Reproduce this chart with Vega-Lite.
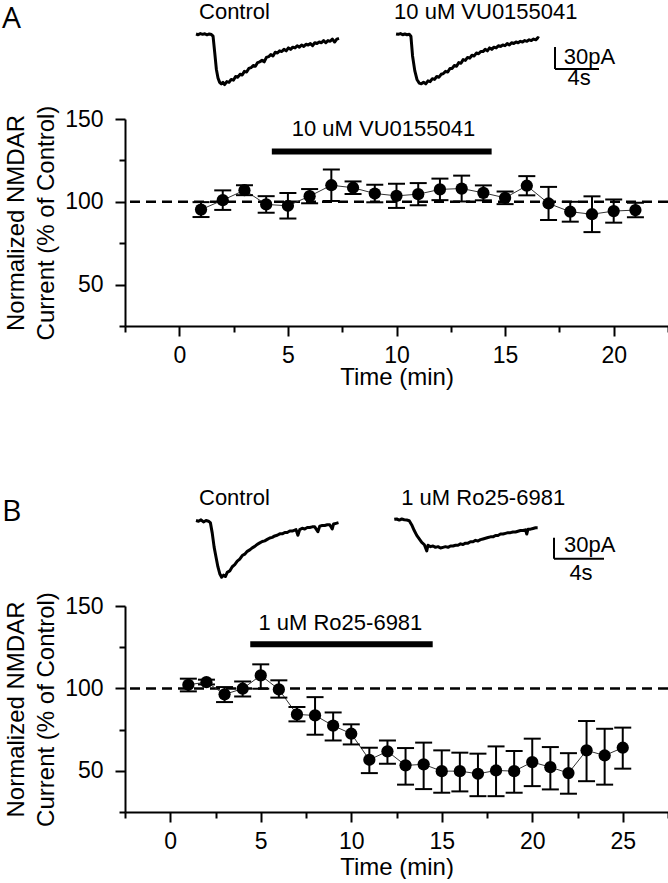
{
  "$schema": "https://vega.github.io/schema/vega-lite/v6.json",
  "background": "white",
  "padding": {"left": 1, "top": 0, "right": 0, "bottom": 0},
  "spacing": 97,
  "config": {
    "view": {"stroke": null},
    "font": "Liberation Sans",
    "axis": {"domainColor": "black", "domainWidth": 2, "tickColor": "black", "tickWidth": 2, "labelColor": "black", "titleColor": "black", "grid": false, "labelFont": "Liberation Sans", "titleFont": "Liberation Sans", "labelFontSize": 23, "titleFontSize": 24, "titleFontWeight": "normal", "labelFlush": false, "labelOverlap": false, "labelBound": false},
    "axisX": {"format": "d", "labelExpr": "datum.value % 5 === 0 ? datum.label : ''", "tickSize": {"condition": {"test": "datum.value % 5 === 0", "value": 10}, "value": 6}, "labelPadding": 8, "titlePadding": -2},
    "axisY": {"format": "d", "labelExpr": "datum.value % 50 === 0 ? datum.label : ''", "tickSize": {"condition": {"test": "datum.value % 50 === 0", "value": 10}, "value": 6}, "titleLineHeight": 30, "labelPadding": 12, "titlePadding": 6},
    "text": {"font": "Liberation Sans", "color": "black"}
  },
  "datasets": {
    "control": [{"pct": 100}],
    "pointsA": [
      {"min": 1, "pct": 95.3, "lo": 90.8, "hi": 99.8},
      {"min": 2, "pct": 101, "lo": 95.1, "hi": 106.9},
      {"min": 3, "pct": 107, "lo": 104, "hi": 110},
      {"min": 4, "pct": 98.4, "lo": 93.4, "hi": 103.4},
      {"min": 5, "pct": 97.6, "lo": 89.9, "hi": 105.3},
      {"min": 6, "pct": 103.4, "lo": 99.1, "hi": 107.7},
      {"min": 7, "pct": 110, "lo": 100.5, "hi": 119.5},
      {"min": 8, "pct": 108.5, "lo": 104.7, "hi": 112.3},
      {"min": 9, "pct": 105, "lo": 99.7, "hi": 110.3},
      {"min": 10, "pct": 103.6, "lo": 96.3, "hi": 110.9},
      {"min": 11, "pct": 104.6, "lo": 97.9, "hi": 111.3},
      {"min": 12, "pct": 107.5, "lo": 101, "hi": 114},
      {"min": 13, "pct": 108, "lo": 100.2, "hi": 115.8},
      {"min": 14, "pct": 105.4, "lo": 100.9, "hi": 109.9},
      {"min": 15, "pct": 102.4, "lo": 98.6, "hi": 106.2},
      {"min": 16, "pct": 109.7, "lo": 103.9, "hi": 115.5},
      {"min": 17, "pct": 99, "lo": 89, "hi": 109},
      {"min": 18, "pct": 94, "lo": 88, "hi": 100},
      {"min": 19, "pct": 92.5, "lo": 81.7, "hi": 103.3},
      {"min": 20, "pct": 94.4, "lo": 87.4, "hi": 101.4},
      {"min": 21, "pct": 95, "lo": 90.6, "hi": 99.4}
    ],
    "pointsB": [
      {"min": 1, "pct": 102.2, "lo": 98.2, "hi": 105.9},
      {"min": 2, "pct": 103.8, "lo": 102.4, "hi": 105.3},
      {"min": 3, "pct": 96.4, "lo": 91.7, "hi": 100.8},
      {"min": 4, "pct": 99.8, "lo": 95.1, "hi": 104.2},
      {"min": 5, "pct": 107.9, "lo": 99.8, "hi": 114.6},
      {"min": 6, "pct": 99.4, "lo": 94.4, "hi": 104.9},
      {"min": 7, "pct": 84.2, "lo": 80, "hi": 88.7},
      {"min": 8, "pct": 83.6, "lo": 71.9, "hi": 94.7},
      {"min": 9, "pct": 77.4, "lo": 68.4, "hi": 85.4},
      {"min": 10, "pct": 72.5, "lo": 66, "hi": 78.2},
      {"min": 11, "pct": 56.7, "lo": 48.6, "hi": 64},
      {"min": 12, "pct": 61.8, "lo": 54.3, "hi": 68.4},
      {"min": 13, "pct": 53.3, "lo": 41.6, "hi": 63.8},
      {"min": 14, "pct": 53.9, "lo": 38.9, "hi": 67.1},
      {"min": 15, "pct": 49.8, "lo": 36.7, "hi": 62.4},
      {"min": 16, "pct": 49.8, "lo": 37.5, "hi": 61},
      {"min": 17, "pct": 48.2, "lo": 34.6, "hi": 60.4},
      {"min": 18, "pct": 50.2, "lo": 34.6, "hi": 64.8},
      {"min": 19, "pct": 49.8, "lo": 36.7, "hi": 62},
      {"min": 20, "pct": 55.3, "lo": 40.7, "hi": 69.5},
      {"min": 21, "pct": 52.2, "lo": 38.7, "hi": 64.4},
      {"min": 22, "pct": 48.6, "lo": 36.1, "hi": 60.7},
      {"min": 23, "pct": 62.4, "lo": 43.7, "hi": 80.2},
      {"min": 24, "pct": 59.3, "lo": 41.6, "hi": 75.5},
      {"min": 25, "pct": 64, "lo": 51.3, "hi": 76.2}
    ],
    "drugA": [{"drug": "10 uM VU0155041", "start": 4.26, "end": 14.38}],
    "drugB": [{"drug": "1 uM Ro25-6981", "start": 4.42, "end": 14.5}],
    "labelsA": [{"trace": "Panel", "label": "A"}, {"trace": "Control", "label": "Control"}, {"trace": "Drug", "label": "10 uM VU0155041"}],
    "labelsB": [{"trace": "Panel", "label": "B"}, {"trace": "Control", "label": "Control"}, {"trace": "Drug", "label": "1 uM Ro25-6981"}],
    "scalebar": [{"t0": 0, "t1": 4, "i0": 0, "i1": 30, "amp": "30pA", "dur": "4s"}],
    "tracesA": [
      {"trace": "Control", "t": 0, "pA": 0}, {"trace": "Control", "t": 0.2, "pA": -1}, {"trace": "Control", "t": 0.4, "pA": 0.5}, {"trace": "Control", "t": 0.6, "pA": -0.5}, {"trace": "Control", "t": 0.8, "pA": 0.3}, {"trace": "Control", "t": 1.0, "pA": -1.2}, {"trace": "Control", "t": 1.2, "pA": 0}, {"trace": "Control", "t": 1.4, "pA": -0.8}, {"trace": "Control", "t": 1.55, "pA": -3}, {"trace": "Control", "t": 1.7, "pA": -25}, {"trace": "Control", "t": 1.85, "pA": -48}, {"trace": "Control", "t": 2.0, "pA": -60}, {"trace": "Control", "t": 2.15, "pA": -66}, {"trace": "Control", "t": 2.3, "pA": -68}, {"trace": "Control", "t": 2.45, "pA": -66}, {"trace": "Control", "t": 2.6, "pA": -69}, {"trace": "Control", "t": 2.8, "pA": -65}, {"trace": "Control", "t": 3.0, "pA": -66}, {"trace": "Control", "t": 3.2, "pA": -62}, {"trace": "Control", "t": 3.4, "pA": -63}, {"trace": "Control", "t": 3.6, "pA": -58}, {"trace": "Control", "t": 3.8, "pA": -59}, {"trace": "Control", "t": 4.0, "pA": -55}, {"trace": "Control", "t": 4.2, "pA": -56}, {"trace": "Control", "t": 4.4, "pA": -51}, {"trace": "Control", "t": 4.6, "pA": -52}, {"trace": "Control", "t": 4.8, "pA": -47}, {"trace": "Control", "t": 5.0, "pA": -46}, {"trace": "Control", "t": 5.2, "pA": -43}, {"trace": "Control", "t": 5.4, "pA": -44}, {"trace": "Control", "t": 5.6, "pA": -39}, {"trace": "Control", "t": 5.8, "pA": -38}, {"trace": "Control", "t": 6.0, "pA": -36}, {"trace": "Control", "t": 6.2, "pA": -38}, {"trace": "Control", "t": 6.4, "pA": -32}, {"trace": "Control", "t": 6.6, "pA": -31}, {"trace": "Control", "t": 6.8, "pA": -28}, {"trace": "Control", "t": 7.0, "pA": -30}, {"trace": "Control", "t": 7.2, "pA": -25}, {"trace": "Control", "t": 7.4, "pA": -26}, {"trace": "Control", "t": 7.6, "pA": -23}, {"trace": "Control", "t": 7.8, "pA": -24}, {"trace": "Control", "t": 8.0, "pA": -21}, {"trace": "Control", "t": 8.2, "pA": -23}, {"trace": "Control", "t": 8.4, "pA": -19}, {"trace": "Control", "t": 8.6, "pA": -21}, {"trace": "Control", "t": 8.8, "pA": -18}, {"trace": "Control", "t": 9.0, "pA": -19}, {"trace": "Control", "t": 9.2, "pA": -16}, {"trace": "Control", "t": 9.4, "pA": -18}, {"trace": "Control", "t": 9.6, "pA": -15}, {"trace": "Control", "t": 9.8, "pA": -17}, {"trace": "Control", "t": 10.0, "pA": -14}, {"trace": "Control", "t": 10.2, "pA": -15}, {"trace": "Control", "t": 10.4, "pA": -13}, {"trace": "Control", "t": 10.6, "pA": -16}, {"trace": "Control", "t": 10.8, "pA": -12}, {"trace": "Control", "t": 11.0, "pA": -13}, {"trace": "Control", "t": 11.2, "pA": -11}, {"trace": "Control", "t": 11.4, "pA": -12}, {"trace": "Control", "t": 11.6, "pA": -9}, {"trace": "Control", "t": 11.8, "pA": -12}, {"trace": "Control", "t": 12.0, "pA": -9}, {"trace": "Control", "t": 12.2, "pA": -10}, {"trace": "Control", "t": 12.4, "pA": -7}, {"trace": "Control", "t": 12.6, "pA": -11}, {"trace": "Control", "t": 12.8, "pA": -7}, {"trace": "Control", "t": 13.0, "pA": -6},
      {"trace": "Drug", "t": 0, "pA": 0}, {"trace": "Drug", "t": 0.2, "pA": -0.5}, {"trace": "Drug", "t": 0.4, "pA": 0.5}, {"trace": "Drug", "t": 0.6, "pA": -1}, {"trace": "Drug", "t": 0.8, "pA": 0}, {"trace": "Drug", "t": 1.0, "pA": -1}, {"trace": "Drug", "t": 1.2, "pA": -0.5}, {"trace": "Drug", "t": 1.35, "pA": -3}, {"trace": "Drug", "t": 1.5, "pA": -30}, {"trace": "Drug", "t": 1.7, "pA": -50}, {"trace": "Drug", "t": 1.9, "pA": -62}, {"trace": "Drug", "t": 2.1, "pA": -67}, {"trace": "Drug", "t": 2.3, "pA": -68}, {"trace": "Drug", "t": 2.5, "pA": -66}, {"trace": "Drug", "t": 2.7, "pA": -68}, {"trace": "Drug", "t": 2.9, "pA": -64}, {"trace": "Drug", "t": 3.1, "pA": -65}, {"trace": "Drug", "t": 3.3, "pA": -61}, {"trace": "Drug", "t": 3.5, "pA": -62}, {"trace": "Drug", "t": 3.7, "pA": -58}, {"trace": "Drug", "t": 3.9, "pA": -59}, {"trace": "Drug", "t": 4.1, "pA": -55}, {"trace": "Drug", "t": 4.3, "pA": -54}, {"trace": "Drug", "t": 4.5, "pA": -51}, {"trace": "Drug", "t": 4.7, "pA": -52}, {"trace": "Drug", "t": 4.9, "pA": -47}, {"trace": "Drug", "t": 5.1, "pA": -47}, {"trace": "Drug", "t": 5.3, "pA": -43}, {"trace": "Drug", "t": 5.5, "pA": -44}, {"trace": "Drug", "t": 5.7, "pA": -39}, {"trace": "Drug", "t": 5.9, "pA": -40}, {"trace": "Drug", "t": 6.1, "pA": -35}, {"trace": "Drug", "t": 6.3, "pA": -36}, {"trace": "Drug", "t": 6.5, "pA": -32}, {"trace": "Drug", "t": 6.7, "pA": -33}, {"trace": "Drug", "t": 6.9, "pA": -29}, {"trace": "Drug", "t": 7.1, "pA": -30}, {"trace": "Drug", "t": 7.3, "pA": -26}, {"trace": "Drug", "t": 7.5, "pA": -27}, {"trace": "Drug", "t": 7.7, "pA": -24}, {"trace": "Drug", "t": 7.9, "pA": -24}, {"trace": "Drug", "t": 8.1, "pA": -21}, {"trace": "Drug", "t": 8.3, "pA": -23}, {"trace": "Drug", "t": 8.5, "pA": -19}, {"trace": "Drug", "t": 8.7, "pA": -21}, {"trace": "Drug", "t": 8.9, "pA": -18}, {"trace": "Drug", "t": 9.1, "pA": -19}, {"trace": "Drug", "t": 9.3, "pA": -16}, {"trace": "Drug", "t": 9.5, "pA": -17}, {"trace": "Drug", "t": 9.7, "pA": -15}, {"trace": "Drug", "t": 9.9, "pA": -16}, {"trace": "Drug", "t": 10.1, "pA": -13}, {"trace": "Drug", "t": 10.3, "pA": -15}, {"trace": "Drug", "t": 10.5, "pA": -12}, {"trace": "Drug", "t": 10.7, "pA": -13}, {"trace": "Drug", "t": 10.9, "pA": -11}, {"trace": "Drug", "t": 11.1, "pA": -12}, {"trace": "Drug", "t": 11.3, "pA": -10}, {"trace": "Drug", "t": 11.5, "pA": -11}, {"trace": "Drug", "t": 11.7, "pA": -9}, {"trace": "Drug", "t": 11.9, "pA": -10}, {"trace": "Drug", "t": 12.1, "pA": -8}, {"trace": "Drug", "t": 12.3, "pA": -9}, {"trace": "Drug", "t": 12.5, "pA": -7}, {"trace": "Drug", "t": 12.7, "pA": -8}, {"trace": "Drug", "t": 12.9, "pA": -5}, {"trace": "Drug", "t": 13.0, "pA": -6}
    ],
    "tracesB": [
      {"trace": "Control", "t": 0, "pA": 0}, {"trace": "Control", "t": 0.2, "pA": -1}, {"trace": "Control", "t": 0.4, "pA": 1}, {"trace": "Control", "t": 0.6, "pA": -2}, {"trace": "Control", "t": 0.8, "pA": 0}, {"trace": "Control", "t": 1.0, "pA": -1}, {"trace": "Control", "t": 1.15, "pA": -3}, {"trace": "Control", "t": 1.3, "pA": -18}, {"trace": "Control", "t": 1.45, "pA": -38}, {"trace": "Control", "t": 1.6, "pA": -52}, {"trace": "Control", "t": 1.75, "pA": -66}, {"trace": "Control", "t": 1.9, "pA": -76}, {"trace": "Control", "t": 2.05, "pA": -81}, {"trace": "Control", "t": 2.2, "pA": -78}, {"trace": "Control", "t": 2.35, "pA": -80}, {"trace": "Control", "t": 2.5, "pA": -74}, {"trace": "Control", "t": 2.7, "pA": -72}, {"trace": "Control", "t": 2.9, "pA": -66}, {"trace": "Control", "t": 3.1, "pA": -63}, {"trace": "Control", "t": 3.3, "pA": -58}, {"trace": "Control", "t": 3.5, "pA": -55}, {"trace": "Control", "t": 3.7, "pA": -50}, {"trace": "Control", "t": 3.9, "pA": -48}, {"trace": "Control", "t": 4.1, "pA": -44}, {"trace": "Control", "t": 4.3, "pA": -42}, {"trace": "Control", "t": 4.5, "pA": -39}, {"trace": "Control", "t": 4.7, "pA": -37}, {"trace": "Control", "t": 4.9, "pA": -34}, {"trace": "Control", "t": 5.1, "pA": -32}, {"trace": "Control", "t": 5.3, "pA": -30}, {"trace": "Control", "t": 5.5, "pA": -29}, {"trace": "Control", "t": 5.7, "pA": -27}, {"trace": "Control", "t": 5.9, "pA": -25}, {"trace": "Control", "t": 6.1, "pA": -24}, {"trace": "Control", "t": 6.3, "pA": -22}, {"trace": "Control", "t": 6.5, "pA": -21}, {"trace": "Control", "t": 6.7, "pA": -19}, {"trace": "Control", "t": 6.9, "pA": -19}, {"trace": "Control", "t": 7.1, "pA": -17}, {"trace": "Control", "t": 7.3, "pA": -17}, {"trace": "Control", "t": 7.5, "pA": -15}, {"trace": "Control", "t": 7.7, "pA": -15}, {"trace": "Control", "t": 8.0, "pA": -13}, {"trace": "Control", "t": 8.15, "pA": -21}, {"trace": "Control", "t": 8.3, "pA": -13}, {"trace": "Control", "t": 8.5, "pA": -11}, {"trace": "Control", "t": 8.7, "pA": -12}, {"trace": "Control", "t": 8.9, "pA": -10}, {"trace": "Control", "t": 9.1, "pA": -10}, {"trace": "Control", "t": 9.3, "pA": -9}, {"trace": "Control", "t": 9.5, "pA": -9}, {"trace": "Control", "t": 9.75, "pA": -16}, {"trace": "Control", "t": 9.9, "pA": -8}, {"trace": "Control", "t": 10.1, "pA": -7}, {"trace": "Control", "t": 10.3, "pA": -7}, {"trace": "Control", "t": 10.5, "pA": -6}, {"trace": "Control", "t": 10.7, "pA": -6}, {"trace": "Control", "t": 10.9, "pA": -12}, {"trace": "Control", "t": 11.0, "pA": -5}, {"trace": "Control", "t": 11.2, "pA": -4}, {"trace": "Control", "t": 11.4, "pA": -3},
      {"trace": "Drug", "t": 0, "pA": 0}, {"trace": "Drug", "t": 0.2, "pA": 0.5}, {"trace": "Drug", "t": 0.4, "pA": -1}, {"trace": "Drug", "t": 0.6, "pA": 0.5}, {"trace": "Drug", "t": 0.8, "pA": -0.5}, {"trace": "Drug", "t": 1.0, "pA": -1}, {"trace": "Drug", "t": 1.2, "pA": -2}, {"trace": "Drug", "t": 1.4, "pA": -8}, {"trace": "Drug", "t": 1.6, "pA": -16}, {"trace": "Drug", "t": 1.8, "pA": -23}, {"trace": "Drug", "t": 2.0, "pA": -28}, {"trace": "Drug", "t": 2.2, "pA": -33}, {"trace": "Drug", "t": 2.4, "pA": -36}, {"trace": "Drug", "t": 2.6, "pA": -45}, {"trace": "Drug", "t": 2.7, "pA": -37}, {"trace": "Drug", "t": 2.9, "pA": -39}, {"trace": "Drug", "t": 3.1, "pA": -38}, {"trace": "Drug", "t": 3.3, "pA": -40}, {"trace": "Drug", "t": 3.5, "pA": -39}, {"trace": "Drug", "t": 3.7, "pA": -41}, {"trace": "Drug", "t": 3.9, "pA": -40}, {"trace": "Drug", "t": 4.1, "pA": -39}, {"trace": "Drug", "t": 4.3, "pA": -40}, {"trace": "Drug", "t": 4.5, "pA": -38}, {"trace": "Drug", "t": 4.7, "pA": -38}, {"trace": "Drug", "t": 4.9, "pA": -37}, {"trace": "Drug", "t": 5.1, "pA": -37}, {"trace": "Drug", "t": 5.3, "pA": -35}, {"trace": "Drug", "t": 5.5, "pA": -36}, {"trace": "Drug", "t": 5.7, "pA": -34}, {"trace": "Drug", "t": 5.9, "pA": -34}, {"trace": "Drug", "t": 6.1, "pA": -32}, {"trace": "Drug", "t": 6.3, "pA": -32}, {"trace": "Drug", "t": 6.5, "pA": -30}, {"trace": "Drug", "t": 6.7, "pA": -31}, {"trace": "Drug", "t": 6.9, "pA": -29}, {"trace": "Drug", "t": 7.1, "pA": -28}, {"trace": "Drug", "t": 7.3, "pA": -27}, {"trace": "Drug", "t": 7.5, "pA": -26}, {"trace": "Drug", "t": 7.7, "pA": -25}, {"trace": "Drug", "t": 7.9, "pA": -25}, {"trace": "Drug", "t": 8.1, "pA": -23}, {"trace": "Drug", "t": 8.3, "pA": -23}, {"trace": "Drug", "t": 8.5, "pA": -21}, {"trace": "Drug", "t": 8.7, "pA": -21}, {"trace": "Drug", "t": 8.9, "pA": -20}, {"trace": "Drug", "t": 9.1, "pA": -19}, {"trace": "Drug", "t": 9.3, "pA": -19}, {"trace": "Drug", "t": 9.5, "pA": -18}, {"trace": "Drug", "t": 9.7, "pA": -18}, {"trace": "Drug", "t": 9.9, "pA": -17}, {"trace": "Drug", "t": 10.1, "pA": -16}, {"trace": "Drug", "t": 10.3, "pA": -16}, {"trace": "Drug", "t": 10.5, "pA": -15}, {"trace": "Drug", "t": 10.6, "pA": -21}, {"trace": "Drug", "t": 10.7, "pA": -14}, {"trace": "Drug", "t": 10.9, "pA": -14}, {"trace": "Drug", "t": 11.1, "pA": -13}, {"trace": "Drug", "t": 11.3, "pA": -12}, {"trace": "Drug", "t": 11.47, "pA": -12}
    ]
  },
  "vconcat": [
    {
      "width": 543,
      "height": 207,
      "resolve": {"scale": {"x": "independent", "y": "independent"}},
      "layer": [
        {
          "layer": [
            {
              "data": {"name": "control"},
              "mark": {"type": "rule", "strokeDash": [10, 6], "strokeWidth": 2.5, "color": "black"},
              "encoding": {"y": {"field": "pct", "type": "quantitative", "scale": {"domain": [25, 150], "nice": false, "zero": false}, "axis": {"title": ["Normalized NMDAR", "Current (% of Control)"], "values": [25, 50, 75, 100, 125, 150]}}}
            },
            {
              "data": {"name": "drugA"},
              "mark": {"type": "rule", "strokeWidth": 6, "color": "black"},
              "encoding": {
                "x": {"field": "start", "type": "quantitative", "scale": {"domain": [-2.5, 22.5], "nice": false, "zero": false}, "axis": {"title": "Time (min)", "values": [-2.5, 0, 2.5, 5, 7.5, 10, 12.5, 15, 17.5, 20, 22.5]}},
                "x2": {"field": "end"},
                "y": {"datum": 130.3, "type": "quantitative", "scale": {"domain": [25, 150], "nice": false, "zero": false}, "axis": {"title": ["Normalized NMDAR", "Current (% of Control)"], "values": [25, 50, 75, 100, 125, 150]}}
              }
            },
            {
              "data": {"name": "drugA"},
              "mark": {"type": "text", "fontSize": 22, "align": "center", "baseline": "alphabetic"},
              "encoding": {
                "x": {"datum": 9.4, "type": "quantitative", "scale": {"domain": [-2.5, 22.5], "nice": false, "zero": false}, "axis": {"title": "Time (min)", "values": [-2.5, 0, 2.5, 5, 7.5, 10, 12.5, 15, 17.5, 20, 22.5]}},
                "y": {"datum": 139.5, "type": "quantitative", "scale": {"domain": [25, 150], "nice": false, "zero": false}, "axis": {"title": ["Normalized NMDAR", "Current (% of Control)"], "values": [25, 50, 75, 100, 125, 150]}},
                "text": {"field": "drug"}
              }
            },
            {
              "data": {"name": "pointsA"},
              "encoding": {
                "x": {"field": "min", "type": "quantitative", "scale": {"domain": [-2.5, 22.5], "nice": false, "zero": false}, "axis": {"title": "Time (min)", "values": [-2.5, 0, 2.5, 5, 7.5, 10, 12.5, 15, 17.5, 20, 22.5]}}
              },
              "layer": [
                {
                  "mark": {"type": "line", "color": "#333333", "strokeWidth": 1},
                  "encoding": {"y": {"field": "pct", "type": "quantitative", "scale": {"domain": [25, 150], "nice": false, "zero": false}, "axis": {"title": ["Normalized NMDAR", "Current (% of Control)"], "values": [25, 50, 75, 100, 125, 150]}}}
                },
                {
                  "mark": {"type": "rule", "color": "black", "strokeWidth": 2},
                  "encoding": {"y": {"field": "lo", "type": "quantitative", "scale": {"domain": [25, 150], "nice": false, "zero": false}, "axis": {"title": ["Normalized NMDAR", "Current (% of Control)"], "values": [25, 50, 75, 100, 125, 150]}}, "y2": {"field": "hi"}}
                },
                {
                  "mark": {"type": "tick", "orient": "horizontal", "size": 17, "thickness": 2, "color": "black", "opacity": 1},
                  "encoding": {"y": {"field": "lo", "type": "quantitative", "scale": {"domain": [25, 150], "nice": false, "zero": false}, "axis": {"title": ["Normalized NMDAR", "Current (% of Control)"], "values": [25, 50, 75, 100, 125, 150]}}}
                },
                {
                  "mark": {"type": "tick", "orient": "horizontal", "size": 17, "thickness": 2, "color": "black", "opacity": 1},
                  "encoding": {"y": {"field": "hi", "type": "quantitative", "scale": {"domain": [25, 150], "nice": false, "zero": false}, "axis": {"title": ["Normalized NMDAR", "Current (% of Control)"], "values": [25, 50, 75, 100, 125, 150]}}}
                },
                {
                  "mark": {"type": "circle", "size": 150, "color": "black", "opacity": 1},
                  "encoding": {"y": {"field": "pct", "type": "quantitative", "scale": {"domain": [25, 150], "nice": false, "zero": false}, "axis": {"title": ["Normalized NMDAR", "Current (% of Control)"], "values": [25, 50, 75, 100, 125, 150]}}}
                }
              ]
            }
          ]
        },
        {
          "layer": [
            {
              "data": {"name": "tracesA"},
              "transform": [{"filter": "datum.trace === 'Control'"}],
              "mark": {"type": "line", "color": "black", "strokeWidth": 3, "strokeJoin": "round"},
              "encoding": {
                "x": {"field": "t", "type": "quantitative", "scale": {"domain": [-6.455, 42.91], "nice": false, "zero": false}, "axis": null},
                "y": {"field": "pA", "type": "quantitative", "scale": {"domain": [-398.4, -116.0], "nice": false, "zero": false}, "axis": null}
              }
            },
            {
              "data": {"name": "labelsA"},
              "transform": [{"filter": "datum.trace === 'Control'"}],
              "mark": {"type": "text", "align": "left", "baseline": "alphabetic", "fontSize": 22, "dx": 3},
              "encoding": {
                "x": {"datum": 0, "type": "quantitative", "scale": {"domain": [-6.455, 42.91], "nice": false, "zero": false}, "axis": null},
                "y": {"datum": 20.5, "type": "quantitative", "scale": {"domain": [-398.4, -116.0], "nice": false, "zero": false}, "axis": null},
                "text": {"field": "label"}
              }
            },
            {
              "data": {"name": "labelsA"},
              "transform": [{"filter": "datum.trace === 'Panel'"}],
              "mark": {"type": "text", "align": "left", "baseline": "alphabetic", "fontSize": 30, "font": "Open Sans"},
              "encoding": {
                "x": {"datum": -17.64, "type": "quantitative", "scale": {"domain": [-6.455, 42.91], "nice": false, "zero": false}, "axis": null},
                "y": {"datum": 8.2, "type": "quantitative", "scale": {"domain": [-398.4, -116.0], "nice": false, "zero": false}, "axis": null},
                "text": {"field": "label"}
              }
            }
          ]
        },
        {
          "layer": [
            {
              "data": {"name": "tracesA"},
              "transform": [{"filter": "datum.trace === 'Drug'"}],
              "mark": {"type": "line", "color": "black", "strokeWidth": 3, "strokeJoin": "round"},
              "encoding": {
                "x": {"field": "t", "type": "quantitative", "scale": {"domain": [-24.64, 24.72], "nice": false, "zero": false}, "axis": null},
                "y": {"field": "pA", "type": "quantitative", "scale": {"domain": [-398.4, -116.0], "nice": false, "zero": false}, "axis": null}
              }
            },
            {
              "data": {"name": "labelsA"},
              "transform": [{"filter": "datum.trace === 'Drug'"}],
              "mark": {"type": "text", "align": "left", "baseline": "alphabetic", "fontSize": 22, "dx": -2},
              "encoding": {
                "x": {"datum": 0, "type": "quantitative", "scale": {"domain": [-24.64, 24.72], "nice": false, "zero": false}, "axis": null},
                "y": {"datum": 20.5, "type": "quantitative", "scale": {"domain": [-398.4, -116.0], "nice": false, "zero": false}, "axis": null},
                "text": {"field": "label"}
              }
            }
          ]
        },
        {
          "data": {"name": "scalebar"},
          "encoding": {
            "x": {"field": "t0", "type": "quantitative", "scale": {"domain": [-39.09, 10.27], "nice": false, "zero": false}, "axis": null},
            "y": {"field": "i0", "type": "quantitative", "scale": {"domain": [-350.6, -68.2], "nice": false, "zero": false}, "axis": null}
          },
          "layer": [
            {"mark": {"type": "rule", "color": "black", "strokeWidth": 2}, "encoding": {"y2": {"field": "i1"}}},
            {"mark": {"type": "rule", "color": "black", "strokeWidth": 2}, "encoding": {"x2": {"field": "t1"}}},
            {"mark": {"type": "text", "align": "left", "baseline": "middle", "fontSize": 22},
              "encoding": {"x": {"datum": 0.8, "type": "quantitative"}, "y": {"datum": 17, "type": "quantitative"}, "text": {"field": "amp"}}},
            {"mark": {"type": "text", "align": "center", "baseline": "top", "fontSize": 22, "dy": -1},
              "encoding": {"x": {"datum": 2.2, "type": "quantitative"}, "text": {"field": "dur"}}}
          ]
        }
      ]
    },
    {
      "width": 543,
      "height": 206,
      "resolve": {"scale": {"x": "independent", "y": "independent"}},
      "layer": [
        {
          "layer": [
            {
              "data": {"name": "control"},
              "mark": {"type": "rule", "strokeDash": [10, 6], "strokeWidth": 2.5, "color": "black"},
              "encoding": {"y": {"field": "pct", "type": "quantitative", "scale": {"domain": [25, 150], "nice": false, "zero": false}, "axis": {"title": ["Normalized NMDAR", "Current (% of Control)"], "values": [25, 50, 75, 100, 125, 150]}}}
            },
            {
              "data": {"name": "drugB"},
              "mark": {"type": "rule", "strokeWidth": 6, "color": "black"},
              "encoding": {
                "x": {"field": "start", "type": "quantitative", "scale": {"domain": [-2.5, 27.5], "nice": false, "zero": false}, "axis": {"title": "Time (min)", "values": [-2.5, 0, 2.5, 5, 7.5, 10, 12.5, 15, 17.5, 20, 22.5, 25, 27.5], "labelPadding": 8, "titlePadding": 2}},
                "x2": {"field": "end"},
                "y": {"datum": 126.8, "type": "quantitative", "scale": {"domain": [25, 150], "nice": false, "zero": false}, "axis": {"title": ["Normalized NMDAR", "Current (% of Control)"], "values": [25, 50, 75, 100, 125, 150]}}
              }
            },
            {
              "data": {"name": "drugB"},
              "mark": {"type": "text", "fontSize": 22, "align": "center", "baseline": "alphabetic"},
              "encoding": {
                "x": {"datum": 9.4, "type": "quantitative", "scale": {"domain": [-2.5, 27.5], "nice": false, "zero": false}, "axis": {"title": "Time (min)", "values": [-2.5, 0, 2.5, 5, 7.5, 10, 12.5, 15, 17.5, 20, 22.5, 25, 27.5], "labelPadding": 8, "titlePadding": 2}},
                "y": {"datum": 135.3, "type": "quantitative", "scale": {"domain": [25, 150], "nice": false, "zero": false}, "axis": {"title": ["Normalized NMDAR", "Current (% of Control)"], "values": [25, 50, 75, 100, 125, 150]}},
                "text": {"field": "drug"}
              }
            },
            {
              "data": {"name": "pointsB"},
              "encoding": {
                "x": {"field": "min", "type": "quantitative", "scale": {"domain": [-2.5, 27.5], "nice": false, "zero": false}, "axis": {"title": "Time (min)", "values": [-2.5, 0, 2.5, 5, 7.5, 10, 12.5, 15, 17.5, 20, 22.5, 25, 27.5], "labelPadding": 8, "titlePadding": 2}}
              },
              "layer": [
                {
                  "mark": {"type": "line", "color": "#333333", "strokeWidth": 1},
                  "encoding": {"y": {"field": "pct", "type": "quantitative", "scale": {"domain": [25, 150], "nice": false, "zero": false}, "axis": {"title": ["Normalized NMDAR", "Current (% of Control)"], "values": [25, 50, 75, 100, 125, 150]}}}
                },
                {
                  "mark": {"type": "rule", "color": "black", "strokeWidth": 2},
                  "encoding": {"y": {"field": "lo", "type": "quantitative", "scale": {"domain": [25, 150], "nice": false, "zero": false}, "axis": {"title": ["Normalized NMDAR", "Current (% of Control)"], "values": [25, 50, 75, 100, 125, 150]}}, "y2": {"field": "hi"}}
                },
                {
                  "mark": {"type": "tick", "orient": "horizontal", "size": 17, "thickness": 2, "color": "black", "opacity": 1},
                  "encoding": {"y": {"field": "lo", "type": "quantitative", "scale": {"domain": [25, 150], "nice": false, "zero": false}, "axis": {"title": ["Normalized NMDAR", "Current (% of Control)"], "values": [25, 50, 75, 100, 125, 150]}}}
                },
                {
                  "mark": {"type": "tick", "orient": "horizontal", "size": 17, "thickness": 2, "color": "black", "opacity": 1},
                  "encoding": {"y": {"field": "hi", "type": "quantitative", "scale": {"domain": [25, 150], "nice": false, "zero": false}, "axis": {"title": ["Normalized NMDAR", "Current (% of Control)"], "values": [25, 50, 75, 100, 125, 150]}}}
                },
                {
                  "mark": {"type": "circle", "size": 150, "color": "black", "opacity": 1},
                  "encoding": {"y": {"field": "pct", "type": "quantitative", "scale": {"domain": [25, 150], "nice": false, "zero": false}, "axis": {"title": ["Normalized NMDAR", "Current (% of Control)"], "values": [25, 50, 75, 100, 125, 150]}}}
                }
              ]
            }
          ]
        },
        {
          "layer": [
            {
              "data": {"name": "tracesB"},
              "transform": [{"filter": "datum.trace === 'Control'"}],
              "mark": {"type": "line", "color": "black", "strokeWidth": 3, "strokeJoin": "round"},
              "encoding": {
                "x": {"field": "t", "type": "quantitative", "scale": {"domain": [-5.68, 37.76], "nice": false, "zero": false}, "axis": null},
                "y": {"field": "pA", "type": "quantitative", "scale": {"domain": [-416.4, -122.1], "nice": false, "zero": false}, "axis": null}
              }
            },
            {
              "data": {"name": "labelsB"},
              "transform": [{"filter": "datum.trace === 'Control'"}],
              "mark": {"type": "text", "align": "left", "baseline": "alphabetic", "fontSize": 22, "dx": 3},
              "encoding": {
                "x": {"datum": 0, "type": "quantitative", "scale": {"domain": [-5.68, 37.76], "nice": false, "zero": false}, "axis": null},
                "y": {"datum": 22.9, "type": "quantitative", "scale": {"domain": [-416.4, -122.1], "nice": false, "zero": false}, "axis": null},
                "text": {"field": "label"}
              }
            },
            {
              "data": {"name": "labelsB"},
              "transform": [{"filter": "datum.trace === 'Panel'"}],
              "mark": {"type": "text", "align": "left", "baseline": "alphabetic", "fontSize": 30, "font": "Open Sans"},
              "encoding": {
                "x": {"datum": -15.52, "type": "quantitative", "scale": {"domain": [-5.68, 37.76], "nice": false, "zero": false}, "axis": null},
                "y": {"datum": -0.7, "type": "quantitative", "scale": {"domain": [-416.4, -122.1], "nice": false, "zero": false}, "axis": null},
                "text": {"field": "label"}
              }
            }
          ]
        },
        {
          "layer": [
            {
              "data": {"name": "tracesB"},
              "transform": [{"filter": "datum.trace === 'Drug'"}],
              "mark": {"type": "line", "color": "black", "strokeWidth": 3, "strokeJoin": "round"},
              "encoding": {
                "x": {"field": "t", "type": "quantitative", "scale": {"domain": [-21.54, 21.9], "nice": false, "zero": false}, "axis": null},
                "y": {"field": "pA", "type": "quantitative", "scale": {"domain": [-418.1, -123.8], "nice": false, "zero": false}, "axis": null}
              }
            },
            {
              "data": {"name": "labelsB"},
              "transform": [{"filter": "datum.trace === 'Drug'"}],
              "mark": {"type": "text", "align": "left", "baseline": "alphabetic", "fontSize": 22, "dx": 7},
              "encoding": {
                "x": {"datum": 0, "type": "quantitative", "scale": {"domain": [-21.54, 21.9], "nice": false, "zero": false}, "axis": null},
                "y": {"datum": 21.1, "type": "quantitative", "scale": {"domain": [-418.1, -123.8], "nice": false, "zero": false}, "axis": null},
                "text": {"field": "label"}
              }
            }
          ]
        },
        {
          "data": {"name": "scalebar"},
          "encoding": {
            "x": {"field": "t0", "type": "quantitative", "scale": {"domain": [-34.32, 9.12], "nice": false, "zero": false}, "axis": null},
            "y": {"field": "i0", "type": "quantitative", "scale": {"domain": [-361.9, -67.6], "nice": false, "zero": false}, "axis": null}
          },
          "layer": [
            {"mark": {"type": "rule", "color": "black", "strokeWidth": 2}, "encoding": {"y2": {"field": "i1"}}},
            {"mark": {"type": "rule", "color": "black", "strokeWidth": 2}, "encoding": {"x2": {"field": "t1"}}},
            {"mark": {"type": "text", "align": "left", "baseline": "middle", "fontSize": 22},
              "encoding": {"x": {"datum": 0.8, "type": "quantitative"}, "y": {"datum": 19, "type": "quantitative"}, "text": {"field": "amp"}}},
            {"mark": {"type": "text", "align": "center", "baseline": "top", "fontSize": 22, "dy": 4},
              "encoding": {"x": {"datum": 2.16, "type": "quantitative"}, "text": {"field": "dur"}}}
          ]
        }
      ]
    }
  ]
}
